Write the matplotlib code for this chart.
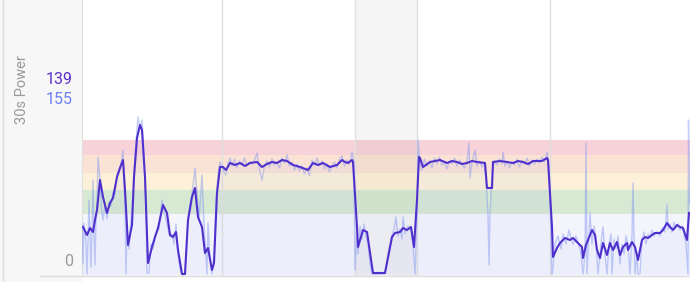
import matplotlib
matplotlib.use("Agg")
import matplotlib.pyplot as plt
from matplotlib.lines import Line2D
from matplotlib.patches import Rectangle

plt.rcParams['font.family'] = ['Roboto', 'DejaVu Sans']

# time in minutes, power in watts
smooth_t = [0.1, 0.5, 0.8, 1.1, 1.3, 1.5, 1.8, 2.1, 2.5, 2.8, 3.1, 3.5, 3.8, 4.1, 4.3, 4.6,
            5.0, 5.2, 5.5, 5.8, 6.0, 6.3, 6.6, 7.0, 7.3, 7.6, 8.1, 8.5, 8.8, 9.1, 9.4, 9.6,
            10.0, 10.3, 10.6, 11.0, 11.3, 11.6, 12.0, 12.3, 12.6, 13.0, 13.2, 13.5, 13.8, 14.1,
            14.4, 14.8, 15.3, 15.8, 16.3, 16.8, 17.5, 18.0, 18.5, 19.0, 19.5, 20.0, 20.5, 21.1,
            21.8, 22.6, 23.1, 23.6, 24.1, 24.8, 25.5, 26.0, 26.3, 26.6, 27.0, 27.1, 27.5, 27.6,
            28.1, 28.5, 29.1, 30.3, 31.0, 31.3, 31.8, 32.1, 32.5, 32.9, 33.2, 33.5, 33.7, 33.8,
            34.1, 34.8, 35.3, 35.8, 36.5, 37.0, 37.5, 38.0, 38.5, 39.0, 39.5, 40.3, 40.5, 41.0,
            41.1, 41.8, 42.5, 43.1, 43.6, 44.1, 44.6, 45.1, 46.0, 46.5, 46.6, 47.0, 47.1, 47.5,
            47.8, 48.3, 48.8, 49.1, 49.6, 50.0, 50.1, 50.4, 50.6, 51.0, 51.3, 51.5, 51.8, 52.1,
            52.5, 52.8, 53.1, 53.5, 53.8, 54.1, 54.5, 54.6, 55.0, 55.3, 55.6, 56.0, 56.3, 56.6,
            57.0, 57.3, 57.8, 58.1, 58.5, 58.8, 59.1, 59.5, 59.8, 60.1, 60.5, 60.7]
smooth_w = [47, 39, 46, 42, 54, 64, 94, 77, 61, 71, 76, 97, 106, 114, 84, 29,
            49, 97, 136, 149, 144, 97, 11, 27, 37, 46, 69, 61, 39, 37, 42, 24,
            0, 0, 54, 77, 86, 57, 47, 21, 26, 4, 11, 81, 107, 107,
            104, 111, 109, 111, 108, 111, 112, 107, 110, 112, 111, 114, 113, 109,
            107, 104, 111, 109, 111, 107, 109, 114, 112, 111, 114, 112, 47, 27,
            44, 42, 1, 1, 37, 41, 42, 46, 44, 47, 27, 74, 117, 116,
            107, 112, 113, 114, 111, 113, 112, 110, 111, 113, 112, 111, 86, 86,
            112, 113, 112, 111, 113, 112, 110, 113, 113, 116, 114, 47, 17, 26,
            31, 36, 34, 36, 31, 27, 16, 29, 34, 44, 39, 24, 16, 31,
            19, 31, 24, 32, 19, 27, 31, 24, 32, 27, 14, 34, 37, 36,
            39, 41, 41, 44, 51, 47, 44, 49, 47, 46, 34, 61]

raw_t = [0.0, 0.1, 0.2, 0.4, 0.5, 0.6, 0.7, 0.8, 0.9, 1.0, 1.1, 1.2, 1.3, 1.4, 1.5, 1.6,
         1.8, 2.0, 2.1, 2.3, 2.5, 2.7, 2.9, 3.1, 3.3, 3.5, 3.7, 3.9, 4.1, 4.2, 4.3, 4.4,
         4.5, 4.7, 4.9, 5.1, 5.3, 5.5, 5.6, 5.8, 6.0, 6.2, 6.4, 6.5, 6.7, 6.9, 7.1, 7.4,
         7.7, 8.0, 8.2, 8.4, 8.6, 8.8, 9.0, 9.2, 9.4, 9.6, 9.8, 10.0, 10.3, 10.5, 10.8, 11.0,
         11.3, 11.5, 11.7, 12.0, 12.2, 12.5, 12.6, 12.8, 13.0, 13.2, 13.4, 13.6, 13.8, 14.0,
         14.2, 14.4, 14.6, 14.8,
         15.0, 15.25, 15.5, 15.75, 16.0, 16.25, 16.5, 16.75, 17.0, 17.25, 17.5, 17.75,
         18.0, 18.25, 18.5, 18.75, 19.0, 19.25, 19.5, 19.75, 20.0, 20.25, 20.5, 20.75,
         21.0, 21.25, 21.5, 21.75, 22.0, 22.25, 22.5, 22.75, 23.0, 23.25, 23.5, 23.75,
         24.0, 24.25, 24.5, 24.75, 25.0, 25.25, 25.5, 25.75, 26.0, 26.25, 26.5, 26.75,
         27.0, 27.2, 27.3, 27.5, 27.6, 27.8, 28.0, 28.2, 28.4, 28.6, 28.8, 29.0, 29.5, 30.0,
         30.3, 30.6, 30.9, 31.2, 31.4, 31.6, 31.8, 32.0, 32.1, 32.3, 32.6, 32.9, 33.1, 33.3,
         33.5, 33.6, 33.8,
         34.0, 34.25, 34.5, 34.75, 35.0, 35.25, 35.5, 35.75, 36.0, 36.25, 36.5, 36.75,
         37.0, 37.25, 37.5, 37.75, 38.0, 38.25, 38.5, 38.7, 38.8, 39.0, 39.3, 39.5, 39.75,
         40.0, 40.2, 40.4, 40.6, 40.7, 40.8, 41.0, 41.2, 41.5, 41.75, 42.0, 42.1, 42.3,
         42.5, 42.75, 43.0, 43.25, 43.5, 43.75, 44.0, 44.25, 44.5, 44.75, 45.0, 45.25,
         45.5, 45.75, 46.0, 46.25, 46.5, 46.7, 46.9, 47.0, 47.1,
         47.3, 47.6, 47.9, 48.1, 48.4, 48.7, 48.9, 49.1, 49.4, 49.7, 49.9, 50.1, 50.3, 50.4,
         50.5, 50.7, 50.8, 51.0, 51.2, 51.4, 51.6, 51.8, 52.0, 52.1, 52.3, 52.5, 52.7, 52.9,
         53.0, 53.2, 53.4, 53.6, 53.8, 54.0, 54.2, 54.4, 54.6, 54.8, 55.0, 55.1, 55.2, 55.3,
         55.5, 55.6, 55.8, 56.0, 56.2, 56.4, 56.6, 56.8, 57.0, 57.2, 57.5, 57.8, 58.0, 58.3,
         58.5, 58.6, 58.8, 59.0, 59.2, 59.4, 59.6, 59.8, 60.0, 60.2, 60.4, 60.6, 60.65, 60.75]
raw_w = [50, 10, 51, 30, 0, 35, 74, 40, 7, 45, 94, 40, 9, 55, 70, 117,
         95, 60, 54, 70, 55, 72, 68, 82, 80, 100, 104, 110, 124, 90, 70, 0,
         45, 25, 55, 80, 120, 145, 157, 145, 154, 120, 60, 1, 1, 30, 25, 40,
         45, 74, 64, 55, 45, 37, 40, 30, 50, 20, 5, 0, 0, 40, 70, 80,
         106, 80, 55, 99, 50, 0, 51, 15, 0, 20, 70, 100, 112, 108,
         102, 99, 110, 116,
         108, 115, 106, 113, 109, 116, 108, 112, 110, 114, 121, 105,
         94, 108, 113, 107, 115, 109, 112, 106, 116, 111, 119, 108,
         112, 104, 110, 103, 108, 100, 106, 98, 114, 109, 116, 108,
         113, 105, 110, 102, 108, 112, 106, 115, 118, 108, 114, 110,
         122, 112, 4, 40, 20, 48, 35, 50, 38, 30, 10, 0, 0, 0,
         2, 20, 35, 45, 57, 38, 45, 35, 57, 40, 48, 44, 30, 0,
         60, 134, 110,
         104, 115, 108, 113, 106, 116, 110, 117, 109, 112, 105, 113,
         110, 116, 108, 114, 110, 106, 113, 131, 96, 112, 124, 108, 113,
         107, 112, 95, 60, 9, 60, 100, 113, 109, 115, 110, 122, 108,
         113, 106, 112, 109, 115, 107, 113, 110, 116, 108, 114, 110,
         115, 111, 117, 112, 122, 108, 40, 0, 5,
         30, 38, 25, 40, 30, 44, 36, 30, 38, 28, 20, 0, 20, 131,
         0, 40, 61, 30, 48, 35, 0, 20, 40, 47, 20, 0, 30, 40,
         0, 35, 25, 38, 10, 30, 20, 38, 30, 0, 40, 91, 40, 0,
         20, 0, 0, 35, 42, 30, 40, 36, 44, 38, 42, 38, 46, 42,
         69, 45, 50, 42, 52, 46, 50, 44, 48, 40, 30, 0, 154, 70]

zone_edges = [0, 60, 84, 101, 119, 134]
zone_colors = ['#bbbbeb', '#63a753', '#f7c767', '#ef935b', '#e0506a']
zone_alpha = [0.15, 0.25, 0.25, 0.25, 0.25]
lap_marks = [14.0, 27.3, 33.5, 46.8]

fig = plt.figure(figsize=(6.9, 2.82), dpi=100)
fig.patch.set_facecolor('white')
W, H = 690, 282

# left label panel
fig.add_artist(Rectangle((0, 0), 82 / W, 1, transform=fig.transFigure,
                         facecolor='#f7f7f7', edgecolor='none', zorder=0))
fig.add_artist(Line2D([2.5 / W, 2.5 / W], [0, 1], transform=fig.transFigure,
                      color='#dddddd', lw=1))

ax = fig.add_axes([82 / W, 6 / H, 608 / W, 276 / H])
ax.set_xlim(0, 60.8)
ax.set_ylim(-2, 274)

ax.axvspan(lap_marks[1], lap_marks[2], color='#f5f5f5', zorder=0)
for i, c in enumerate(zone_colors):
    lo = -2 if i == 0 else zone_edges[i]
    ax.axhspan(lo, zone_edges[i + 1], color=c, alpha=zone_alpha[i], lw=0, zorder=1)
for m in lap_marks:
    ax.axvline(m, color='#e0e0e0', lw=1, zorder=2)

ax.fill_between(raw_t, raw_w, 0, color='#6a80f0', alpha=0.05, lw=0, zorder=3)
ax.plot(raw_t, raw_w, color='#7d93f2', lw=1, alpha=0.45, zorder=4)
ax.plot(smooth_t, smooth_w, color='#5030cc', lw=1.5, zorder=5)

for s in ax.spines.values():
    s.set_visible(False)
ax.spines['left'].set_visible(True)
ax.spines['left'].set_color('#e0e0e0')
ax.set_xticks([])
ax.set_yticks([])

fig.add_artist(Line2D([40 / W, 1], [6 / H, 6 / H], transform=fig.transFigure,
                      color='#dddddd', lw=1))
fig.add_artist(Line2D([538 / W, 550 / W], [0.5 / H, 0.5 / H], transform=fig.transFigure,
                      color='#f2b080', lw=0.8))

fig.text(22 / W, 1 - 90 / H, '30s Power', rotation=90, ha='center', va='center',
         color='#999999', fontsize=10.5)
fig.text(73 / W, 1 - 80 / H, '139', ha='right', va='center', color='#5b2fc9', fontsize=11.5)
fig.text(73 / W, 1 - 99 / H, '155', ha='right', va='center', color='#6a7ff0', fontsize=11.5)
fig.text(73 / W, 1 - 262 / H, '0', ha='right', va='center', color='#999999', fontsize=11.5)

fig.savefig('out.png', dpi=100)
